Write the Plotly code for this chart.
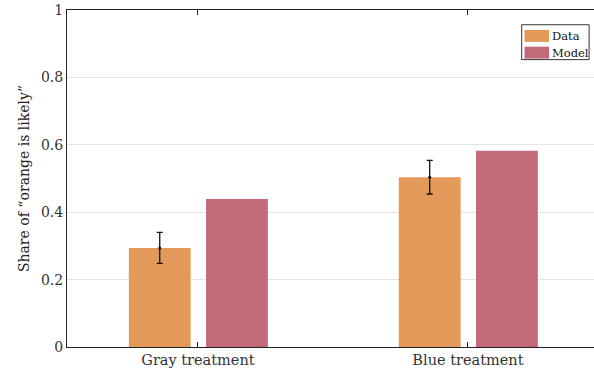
import plotly.graph_objects as go

categories = ["Gray treatment", "Blue treatment"]
data_values = [0.294, 0.504]
data_errors = [0.046, 0.050]
model_values = [0.439, 0.582]
series_names = ["Data", "Model"]
y_ticks = [0, 0.2, 0.4, 0.6, 0.8, 1]
y_ticklabels = ["0", "0.2", "0.4", "0.6", "0.8", "1"]

C_DATA = "#E3995A"
C_MODEL = "#C26A7A"
FONT = "DejaVu Serif"
W = 0.229
OFF_D = -0.256
OFF_M = 0.030

xpos = list(range(len(categories)))

fig = go.Figure()
fig.add_trace(go.Bar(
    x=xpos, y=data_values, width=W, offset=OFF_D, marker_color=C_DATA,
    marker_line_width=0, name=series_names[0], showlegend=False,
    error_y=dict(type="data", array=data_errors, color="#111111", thickness=1.3, width=3),
))
fig.add_trace(go.Bar(
    x=xpos, y=model_values, width=W, offset=OFF_M, marker_color=C_MODEL,
    marker_line_width=0, name=series_names[1], showlegend=False,
))
fig.add_trace(go.Scatter(
    x=[p + OFF_D + W / 2 for p in xpos], y=data_values, mode="markers",
    marker=dict(color="#111111", size=3), showlegend=False, hoverinfo="skip",
))

W_FIG, H_FIG = 594, 377
def px(x): return x / W_FIG
def py(y): return 1 - y / H_FIG

# manual legend box
fig.add_shape(type="rect", xref="paper", yref="paper",
              x0=px(512.5), x1=px(588.5), y0=py(55.5), y1=py(16.5),
              line=dict(color="#333333", width=1), fillcolor="white", layer="above")
for i, (name, col) in enumerate(zip(series_names, [C_DATA, C_MODEL])):
    yc = 29 + i * 18.7
    fig.add_shape(type="rect", xref="paper", yref="paper",
                  x0=px(515.7), x1=px(543.3), y0=py(yc + 6.7), y1=py(yc - 6.7),
                  line=dict(width=0), fillcolor=col, layer="above")
    fig.add_annotation(xref="paper", yref="paper", x=px(544.5), y=py(yc),
                       text=name, showarrow=False, xanchor="left", yanchor="middle",
                       font=dict(family=FONT, size=11.5, color="#111111"))

fig.update_layout(
    width=W_FIG, height=H_FIG,
    margin=dict(l=67, r=0, t=10, b=30),
    paper_bgcolor="white", plot_bgcolor="white",
    font=dict(family=FONT, size=14, color="#222222"),
    barmode="overlay",
)
fig.update_xaxes(
    range=[-0.485, 1.467], tickvals=xpos, ticktext=categories,
    showgrid=False, zeroline=False, showline=True, linecolor="#222222", linewidth=1,
    mirror="ticks", ticks="inside", ticklen=5, tickcolor="#222222",
    tickfont=dict(family=FONT, size=14.5, color="#333333"),
)
fig.update_yaxes(
    range=[0, 1], tickvals=y_ticks, ticktext=y_ticklabels,
    showgrid=True, gridcolor="#E3E3E3", gridwidth=1, zeroline=False,
    showline=True, linecolor="#222222", linewidth=1, mirror=False,
    ticks="", tickfont=dict(family=FONT, size=14, color="#333333"),
    ticklabeloverflow="allow",
    title=dict(text="Share of “orange is likely”", font=dict(family=FONT, size=14, color="#222222"), standoff=8),
)
fig.write_html("out.html", config={"displayModeBar": False},
               post_script="document.body.style.margin='0';")
